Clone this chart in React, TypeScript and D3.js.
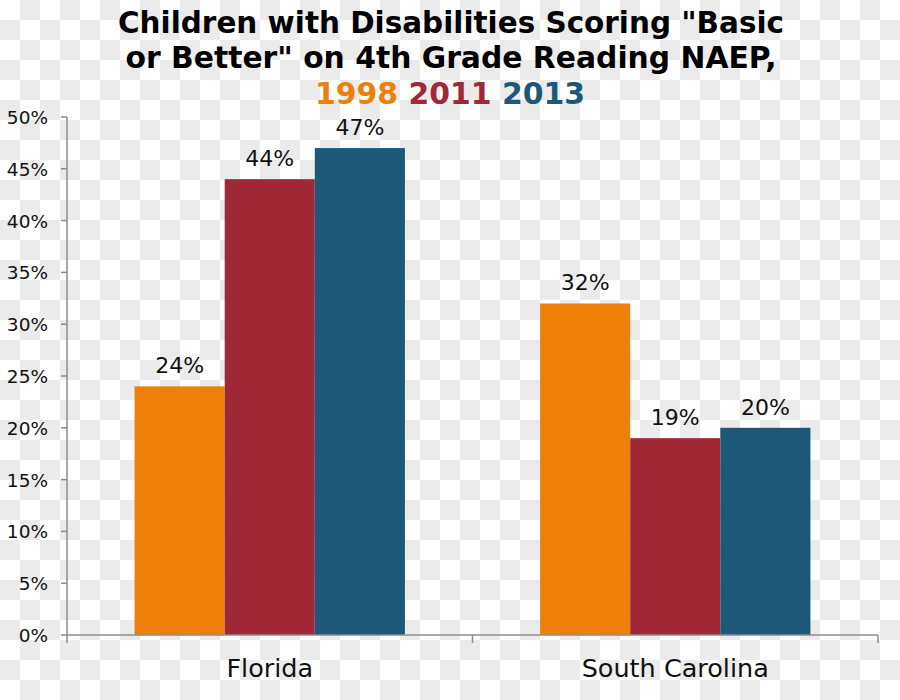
import React from 'react';
import * as d3 from 'd3';

const categories = ['Florida', 'South Carolina'];
const years = ['1998', '2011', '2013'];
const values1998 = [24, 32];
const values2011 = [44, 19];
const values2013 = [47, 20];
const yTicks = [0, 5, 10, 15, 20, 25, 30, 35, 40, 45, 50];
const titleLines = ['Children with Disabilities Scoring "Basic', 'or Better" on 4th Grade Reading NAEP,'];

const colors = ['#EF7F0B', '#A02837', '#1E5879'];
const font = '"DejaVu Sans", Verdana, sans-serif';

const App = () => {
  const width = 900;
  const height = 700;
  const margin = { left: 67, right: 22, top: 117, bottom: 65 };
  const series = [values1998, values2011, values2013];

  const y = d3.scaleLinear().domain([0, 50]).range([height - margin.bottom, margin.top]);
  const x0 = d3.scaleBand().domain(categories).range([margin.left, width - margin.right]);
  const x1 = d3.scaleBand().domain(years).range([0, x0.bandwidth()]).paddingInner(0).paddingOuter(0.75);
  const y0 = y(0);

  return (
    <svg width={width} height={height} style={{ display: 'block', position: 'absolute', left: 0, top: 0 }}>
      <defs>
        <pattern id="checker" width="40" height="40" patternUnits="userSpaceOnUse">
          <rect width="40" height="40" fill="#ffffff" />
          <rect x="20" y="0" width="20" height="20" fill="#ebebeb" />
          <rect x="0" y="20" width="20" height="20" fill="#ebebeb" />
        </pattern>
      </defs>
      <rect width={width} height={height} fill="url(#checker)" />

      {/* title */}
      <g fontFamily={font} fontWeight="bold" fontSize={30} textAnchor="middle">
        <text x={451} y={33} textLength={666} lengthAdjust="spacingAndGlyphs">{titleLines[0]}</text>
        <text x={451} y={68} textLength={651} lengthAdjust="spacingAndGlyphs">{titleLines[1]}</text>
        <text x={450} y={104} textLength={270} lengthAdjust="spacingAndGlyphs">
          {years.map((yr, i) => (
            <tspan key={yr} fill={colors[i]}>{(i > 0 ? ' ' : '') + yr}</tspan>
          ))}
        </text>
      </g>

      {/* bars */}
      {categories.map((c, ci) => (
        <g key={c} transform={`translate(${x0(c)},0)`}>
          {years.map((yr, si) => {
            const v = series[si][ci];
            const bx = x1(yr) as number;
            return (
              <g key={yr}>
                <rect x={bx} y={y(v)} width={x1.bandwidth()} height={y0 - y(v)} fill={colors[si]} />
                <text
                  x={bx + x1.bandwidth() / 2}
                  y={y(v) - 13}
                  textAnchor="middle"
                  fontFamily={font}
                  fontSize={22}
                  fill="#111"
                >
                  {v}%
                </text>
              </g>
            );
          })}
        </g>
      ))}

      {/* axes */}
      <g stroke="#8c8c8c" strokeWidth={1.5}>
        <line x1={margin.left} x2={margin.left} y1={y(50)} y2={y0 + 8} />
        {yTicks.map((t) => (
          <line key={t} x1={margin.left - 6} x2={margin.left} y1={y(t)} y2={y(t)} />
        ))}
        <line x1={margin.left} x2={width - margin.right} y1={y0} y2={y0} />
        {categories.map((c) => (
          <line key={c} x1={(x0(c) as number) + x0.bandwidth()} x2={(x0(c) as number) + x0.bandwidth()} y1={y0} y2={y0 + 8} />
        ))}
      </g>
      <g fontFamily={font} fontSize={18.5} fill="#111" textAnchor="end">
        {yTicks.map((t) => (
          <text key={t} x={48} y={y(t) + 7}>{t}%</text>
        ))}
      </g>
      <g fontFamily={font} fontSize={25.5} fill="#111" textAnchor="middle">
        {categories.map((c) => (
          <text key={c} x={(x0(c) as number) + x0.bandwidth() / 2} y={677}>{c}</text>
        ))}
      </g>
    </svg>
  );
};

export default App;
